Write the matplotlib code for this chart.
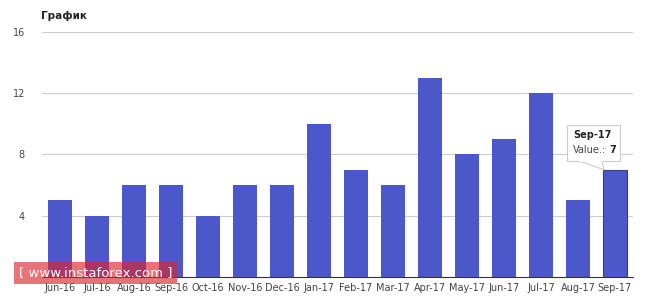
import matplotlib.pyplot as plt
from matplotlib.patches import Polygon, FancyBboxPatch

months = ["Jun-16", "Jul-16", "Aug-16", "Sep-16", "Oct-16", "Nov-16", "Dec-16", "Jan-17",
          "Feb-17", "Mar-17", "Apr-17", "May-17", "Jun-17", "Jul-17", "Aug-17", "Sep-17"]
values = [5, 4, 6, 6, 4, 6, 6, 10, 7, 6, 13, 8, 9, 12, 5, 7]
yticks = [4, 8, 12, 16]

bar_color = "#4c57c9"

fig = plt.figure(figsize=(6.64, 2.98), dpi=100)
ax = fig.add_axes([0.0625, 0.0705, 0.8915, 0.8225])

x = list(range(len(months)))
bars = ax.bar(x, values, width=0.65, color=bar_color, zorder=3)
# hovered bar gets a darker edge
bars[-1].set_edgecolor("#3a3f7a")
bars[-1].set_linewidth(0.8)

ax.set_xlim(-0.5, len(months) - 0.5)
ax.set_ylim(0, 16)
ax.set_yticks(yticks)
ax.set_xticks(x)
ax.set_xticklabels(months)
ax.tick_params(axis="both", length=0, labelsize=7, colors="#444444")
ax.tick_params(axis="y", pad=12)
ax.tick_params(axis="x", pad=4)
ax.grid(axis="y", color="#cccccc", linewidth=0.8, zorder=0)
for s in ["top", "right", "left"]:
    ax.spines[s].set_visible(False)
ax.spines["bottom"].set_color("#333333")
ax.spines["bottom"].set_linewidth(0.8)
ax.spines["bottom"].set_zorder(4)

fig.text(0.0625, 0.935, "График", fontsize=7.5, fontweight="bold", color="#222222")

# tooltip
i = len(months) - 1
v = values[i]
bx0, bx1 = i - 1.3, i + 0.13
by0, by1 = v + 0.55, v + 2.95
box = FancyBboxPatch((bx0, by0), bx1 - bx0, by1 - by0, boxstyle="square,pad=0",
                     facecolor="white", edgecolor="#cccccc", linewidth=0.8, zorder=6,
                     clip_on=False)
ax.add_patch(box)
ptr = Polygon([[i - 0.95, by0], [i - 0.35, by0], [i - 0.3, v]], closed=True,
              facecolor="white", edgecolor="#cccccc", linewidth=0.8, zorder=5)
ax.add_patch(ptr)
ax.plot([i - 0.93, i - 0.37], [by0, by0], color="white", linewidth=1.5, zorder=7)
ax.text(bx0 + 0.17, by1 - 0.35, months[i], fontsize=7, fontweight="bold",
        color="#222222", va="top", zorder=8)
lab = ax.text(bx0 + 0.17, by1 - 1.35, "Value.:", fontsize=7, color="#444444",
              va="top", zorder=8)
ax.annotate(str(v), xy=(1, 1), xycoords=lab, xytext=(2.5, 0), textcoords="offset points",
            fontsize=7, fontweight="bold", color="#222222", va="top", ha="left", zorder=8)

# watermark
fig.text(0.028, 0.085, "[ www.instaforex.com ]", fontsize=9.5, color="white",
         va="center", ha="left",
         bbox=dict(boxstyle="square,pad=0.35", facecolor="#d9282f", alpha=0.65,
                   edgecolor="none"), zorder=10)

fig.savefig("out.png", dpi=100)
